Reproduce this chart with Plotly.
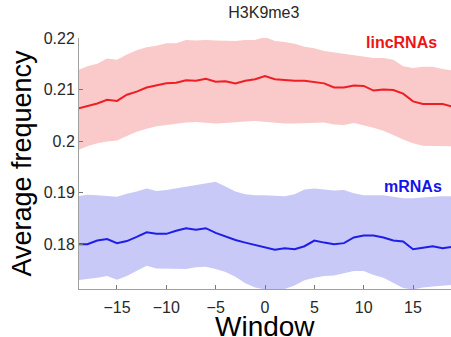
import plotly.graph_objects as go

# Window positions
window = list(range(-19, 20))

# lincRNAs: mean and band limits
linc_mean = [0.2063, 0.2068, 0.2073, 0.2080, 0.2078, 0.2090, 0.2096, 0.2104, 0.2108, 0.2112,
             0.2113, 0.2118, 0.2117, 0.2121, 0.2115, 0.2116, 0.2112, 0.2117, 0.2120, 0.2126,
             0.2120, 0.2118, 0.2117, 0.2117, 0.2115, 0.2112, 0.2104, 0.2104, 0.2108, 0.2107,
             0.2098, 0.2100, 0.2099, 0.2092, 0.2077, 0.2072, 0.2072, 0.2072, 0.2067]
linc_upper = [0.2137, 0.2145, 0.2150, 0.2160, 0.2158, 0.2168, 0.2176, 0.2182, 0.2185, 0.2190,
              0.2190, 0.2196, 0.2195, 0.2196, 0.2195, 0.2195, 0.2194, 0.2196, 0.2196, 0.2202,
              0.2194, 0.2192, 0.2189, 0.2183, 0.2180, 0.2175, 0.2172, 0.2169, 0.2166, 0.2163,
              0.2161, 0.2161, 0.2158, 0.2145, 0.2142, 0.2144, 0.2144, 0.2140, 0.2137]
linc_lower = [0.1982, 0.1990, 0.1996, 0.1999, 0.2001, 0.2010, 0.2018, 0.2024, 0.2029, 0.2032,
              0.2034, 0.2036, 0.2037, 0.2035, 0.2034, 0.2035, 0.2036, 0.2038, 0.2039, 0.2038,
              0.2036, 0.2034, 0.2034, 0.2034, 0.2035, 0.2036, 0.2032, 0.2031, 0.2035, 0.2030,
              0.2026, 0.2020, 0.2012, 0.2003, 0.1996, 0.1991, 0.1990, 0.1990, 0.1990]

# mRNAs: mean and band limits
mrna_mean = [0.1800, 0.1800, 0.1807, 0.1810, 0.1802, 0.1806, 0.1814, 0.1823, 0.1820, 0.1820,
             0.1826, 0.1831, 0.1828, 0.1831, 0.1822, 0.1815, 0.1808, 0.1803, 0.1798, 0.1794,
             0.1789, 0.1792, 0.1790, 0.1796, 0.1807, 0.1803, 0.1800, 0.1802, 0.1813, 0.1817,
             0.1817, 0.1813, 0.1807, 0.1805, 0.1790, 0.1793, 0.1796, 0.1792, 0.1795]
mrna_upper = [0.1893, 0.1896, 0.1895, 0.1893, 0.1892, 0.1898, 0.1902, 0.1908, 0.1903, 0.1905,
              0.1908, 0.1912, 0.1915, 0.1918, 0.1921, 0.1912, 0.1902, 0.1897, 0.1895, 0.1895,
              0.1894, 0.1893, 0.1897, 0.1906, 0.1908, 0.1906, 0.1904, 0.1905, 0.1899, 0.1895,
              0.1895, 0.1895, 0.1892, 0.1889, 0.1889, 0.1891, 0.1892, 0.1893, 0.1893]
mrna_lower = [0.1730, 0.1732, 0.1735, 0.1738, 0.1731, 0.1738, 0.1748, 0.1758, 0.1753, 0.1752,
              0.1752, 0.1752, 0.1755, 0.1756, 0.1752, 0.1746, 0.1737, 0.1724, 0.1716, 0.1712,
              0.1711, 0.1713, 0.1720, 0.1730, 0.1735, 0.1738, 0.1739, 0.1744, 0.1748, 0.1748,
              0.1740, 0.1735, 0.1725, 0.1715, 0.1712, 0.1716, 0.1718, 0.1720, 0.1721]

y_ticks = [0.18, 0.19, 0.20, 0.21, 0.22]
y_tick_text = ["0.18", "0.19", "0.2", "0.21", "0.22"]
x_ticks = [-15, -10, -5, 0, 5, 10, 15]

series = [
    ("lincRNAs", linc_mean, linc_upper, linc_lower, "rgb(238,30,36)", "rgb(250,201,201)"),
    ("mRNAs", mrna_mean, mrna_upper, mrna_lower, "rgb(30,30,232)", "rgb(201,201,248)"),
]

fig = go.Figure()
for name, mean, upper, lower, line_col, band_col in series:
    fig.add_trace(go.Scatter(
        x=window + window[::-1], y=upper + lower[::-1],
        fill="toself", fillcolor=band_col, line=dict(width=0),
        mode="lines", hoverinfo="skip", showlegend=False,
    ))
for name, mean, upper, lower, line_col, band_col in series:
    fig.add_trace(go.Scatter(
        x=window, y=mean, mode="lines", name=name,
        line=dict(color=line_col, width=2), showlegend=False,
    ))

font = "Liberation Sans, Arial, Helvetica, sans-serif"
fig.add_annotation(x=13.8, y=0.2191, text="<b>lincRNAs</b>", showarrow=False,
                   font=dict(family=font, size=16, color="rgb(238,20,20)"))
fig.add_annotation(x=15.0, y=0.1912, text="<b>mRNAs</b>", showarrow=False,
                   font=dict(family=font, size=16, color="rgb(20,20,232)"))
# x-axis title, set below the tick labels
fig.add_annotation(x=0, xref="x", y=-0.08, yref="paper", yanchor="top",
                   text="Window", showarrow=False,
                   font=dict(family=font, size=28, color="black"))

axis_common = dict(
    showgrid=False, zeroline=False, showline=True, linecolor="rgb(160,160,160)", linewidth=1,
    ticks="inside", ticklen=4, tickcolor="rgb(120,120,120)",
    tickfont=dict(family=font, size=16, color="rgb(40,40,40)"),
    mirror=False,
)

fig.update_layout(
    width=451, height=337,
    margin=dict(l=79, r=0, t=38, b=48),
    paper_bgcolor="white", plot_bgcolor="white",
    title=dict(text="H3K9me3", x=0.585, xanchor="center", y=0.962, yanchor="middle",
               font=dict(family=font, size=16, color="rgb(40,40,40)")),
    xaxis=dict(range=[-18.85, 18.85], tickvals=x_ticks, ticklabelstandoff=4,
               **axis_common),
    yaxis=dict(range=[0.1713, 0.22], tickvals=y_ticks, ticktext=y_tick_text,
               title=dict(text="Average frequency", standoff=4,
                          font=dict(family=font, size=27, color="black")),
               **axis_common),
)

fig.write_html("out.html")
